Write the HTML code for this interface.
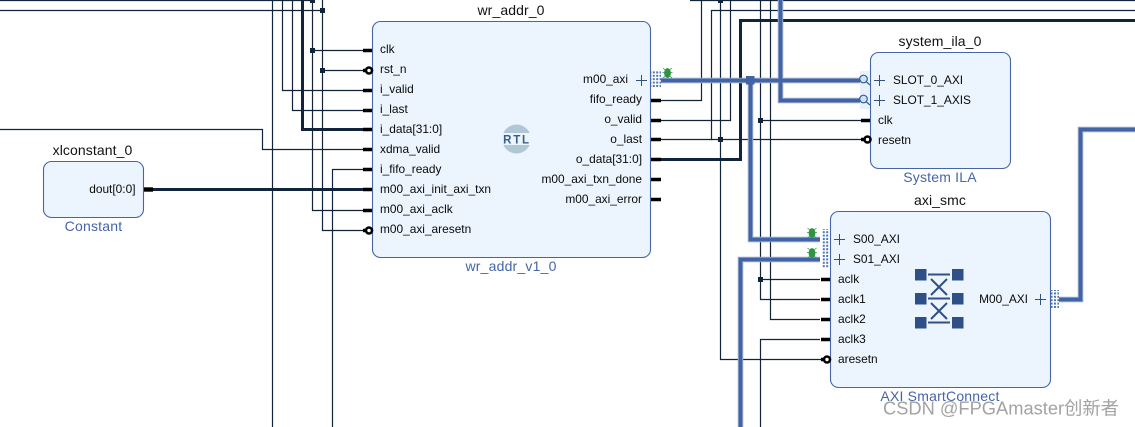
<!DOCTYPE html>
<html><head><meta charset="utf-8"><style>
html,body{margin:0;padding:0;background:#fff;width:1135px;height:427px;overflow:hidden}
svg{display:block}
text{font-family:"Liberation Sans","Noto Sans CJK SC",sans-serif;fill:#111}
.p{font-size:11.9px;fill:#0a0a0a}
.t{font-size:14px;text-anchor:middle;letter-spacing:.1px}
.s{font-size:14px;text-anchor:middle;fill:#4565a8;letter-spacing:.2px}
.e{text-anchor:end}
</style></head><body>
<svg width="1135" height="427" viewBox="0 0 1135 427" xmlns="http://www.w3.org/2000/svg">
<defs>
<pattern id="dots" width="3.4" height="3.4" patternUnits="userSpaceOnUse"><rect width="2" height="2" fill="#4a74b2"/></pattern>
</defs>
<!-- thin wires -->
<g fill="none" stroke="#12243c" stroke-width="1.2">
<path d="M0 .5H312.5M0 10.5H322.5"/>
<path d="M272.5 0V427"/>
<path d="M282.5 0V90.5H365"/>
<path d="M292.5 0V110.5H365"/>
<path d="M312.5 0V210.5H365M312.5 50.5H365"/>
<path d="M322.5 0V230.5H365M322.5 70.5H365"/>
<path d="M0 129.5H262.5V149.5H365"/>
<path d="M365 169.5H332.5V427"/>
<path d="M661 100.5H701.5V0"/>
<path d="M661 120.5H730.5V0"/>
<path d="M661 139.5H711.5V10.5H1135"/>
<path d="M711 139.5H866"/>
<path d="M690 .5H1135"/>
<path d="M720.5 0V359.5H825"/>
<path d="M760.5 0V299.5H820M760.5 120.5H865M760.5 279.5H820"/>
<path d="M770.5 0V319.5H820"/>
<path d="M820 339.500H760.5V427"/>
</g>
<!-- thick wires -->
<g fill="none" stroke="#12243c" stroke-width="3">
<path d="M302.5 0V129.5H365"/>
<path d="M153 189.5H365"/>
<path d="M661 159.5H740.5V20.5H1135"/>
</g>
<!-- blocks -->
<g fill="#ecf4fe" stroke="#4565a8" stroke-width="1.100">
<rect x="372.5" y="21.5" width="278" height="236" rx="8"/>
<rect x="43.5" y="161.5" width="100" height="56" rx="8"/>
<rect x="870.5" y="52.5" width="140" height="116" rx="8"/>
<rect x="830.5" y="211.5" width="220" height="176" rx="8"/>
</g>
<!-- bus wires -->
<g fill="none" stroke="#92a6cc" stroke-width="5.5">
<path d="M661 80.5H862"/><path d="M780.5 0V100.5H862"/>
<path d="M750.5 80.5V239.5H820"/><path d="M820 259.5H740.5V427"/>
<path d="M1059 299.5H1080.5V129.5H1135"/>
</g>
<g fill="none" stroke="#4263a5" stroke-width="3.5">
<path d="M661 80.5H862"/><path d="M780.5 0V100.5H862"/>
<path d="M750.5 80.5V239.5H820"/><path d="M820 259.5H740.5V427"/>
<path d="M1059 299.5H1080.5V129.5H1135"/>
</g>
<rect x="746" y="76" width="8.500" height="8.500" fill="#4263a5"/>
<!-- junction dots -->
<g fill="#12243c">
<rect x="310" y="-2" width="5" height="5"/><rect x="320" y="8" width="5" height="5"/>
<rect x="310" y="48" width="5" height="5"/><rect x="320" y="68" width="5" height="5"/>
<rect x="718" y="-2" width="5" height="5"/><rect x="718" y="137" width="5" height="5"/>
<rect x="758" y="118" width="5" height="5"/><rect x="758" y="277" width="5" height="5"/>
</g>
<!-- stubs -->
<g fill="none" stroke="#000" stroke-width="3.600">
<path d="M363 50.500h9M363 70.500h6M363 90.500h9M363 110.500h9M363 129.500h9M363 149.500h9M363 169.500h9M363 189.500h9M363 210.500h9M363 230.500h6"/>
<path d="M651 100.500h10M651 120.500h10M651 139.500h10M651 159.500h10M651 179.500h10M651 199.500h10"/>
<path d="M144 189.500h9" stroke-width="4.400"/>
<path d="M861 120.500h9M861 139.500h6"/>
<path d="M821 279.500h9M821 299.500h9M821 319.500h9M821 339.500h9M821 359.500h6"/>
</g>
<!-- inverted bubbles -->
<g fill="#fff" stroke="#000" stroke-width="2.600">
<circle cx="369" cy="70.500" r="3"/><circle cx="369" cy="230.500" r="3"/>
<circle cx="867.500" cy="139.500" r="3"/><circle cx="827" cy="359.500" r="3"/>
</g>
<!-- bus dotted ports -->
<rect x="651" y="71" width="10" height="17" fill="url(#dots)"/>
<rect x="822" y="229" width="7" height="39" fill="url(#dots)"/>
<rect x="1051" y="290" width="8" height="18" fill="url(#dots)"/>
<!-- plus -->
<g stroke="#2f5080" stroke-width="1" fill="none">
<path d="M636 80.500H647M641.500 75V86"/>
<path d="M874 80.500H885M879.500 75V86"/>
<path d="M874 100.500H885M879.500 95V106"/>
<path d="M834 239.500H845M839.500 234V245"/>
<path d="M834 259.500H845M839.500 254V265"/>
<path d="M1035 299.500H1046M1040.500 294V305"/>
</g>
<!-- ILA probes -->
<rect x="860" y="71" width="10" height="38" fill="#e8f1fb"/>
<g fill="#cfe3f5" stroke="#2f5f95" stroke-width="1.200">
<circle cx="863.500" cy="79" r="3.800"/><path d="M866.500 82L870 85"/>
<circle cx="863.500" cy="99" r="3.800"/><path d="M866.500 102L870 105"/>
</g>
<!-- bugs -->
<g fill="#2e9440" stroke="#2e9440" stroke-width=".8">
<ellipse cx="667.500" cy="73" rx="3" ry="4.500"/><path d="M663 68l2.500 2M672 68l-2.500 2M662.500 72.500h10M663 78l2.500-2M672 78l-2.500-2"/>
<ellipse cx="812" cy="233" rx="3" ry="4.500"/><path d="M807.500 228l2.500 2M816.500 228l-2.500 2M807 232.500h10M807.500 238l2.500-2M816.500 238l-2.500-2"/>
<ellipse cx="812" cy="253" rx="3" ry="4.500"/><path d="M807.500 248l2.500 2M816.500 248l-2.500 2M807 252.500h10M807.500 258l2.500-2M816.500 258l-2.500-2"/>
</g>
<!-- RTL logo -->
<circle cx="516.500" cy="139" r="14.500" fill="#b0c8d6"/>
<rect x="500" y="133" width="33" height="12" fill="#ecf4fe"/>
<text x="517" y="143.500" font-size="11.500" font-weight="700" text-anchor="middle" letter-spacing="1.800" style="fill:#35608f">RTL</text>
<!-- SMC icon -->
<g fill="#2f5087">
<rect x="915" y="269" width="11.500" height="11.500"/><rect x="952" y="269" width="11.500" height="11.500"/>
<rect x="915" y="293" width="11.500" height="11.500"/><rect x="952" y="293" width="11.500" height="11.500"/>
<rect x="915" y="317" width="11.500" height="11.500"/><rect x="952" y="317" width="11.500" height="11.500"/>
</g>
<g stroke="#2f5087" stroke-width="2" fill="none">
<path d="M928 274.500H950M928 298.500H950M928 322.500H950"/>
<path d="M931 279L947 295M947 279L931 295M931 303L947 319M947 303L931 319"/>
</g>
<!-- titles -->
<text class="t" x="511" y="15">wr_addr_0</text>
<text class="t" x="92.500" y="155">xlconstant_0</text>
<text class="t" x="940" y="46">system_ila_0</text>
<text class="t" x="940" y="205">axi_smc</text>
<text class="s" x="511" y="271">wr_addr_v1_0</text>
<text class="s" x="93.500" y="231">Constant</text>
<text class="s" x="940" y="182">System ILA</text>
<text class="s" x="940" y="401">AXI SmartConnect</text>
<!-- ports -->
<text class="p" x="380" y="53">clk</text>
<text class="p" x="380" y="73">rst_n</text>
<text class="p" x="380" y="93">i_valid</text>
<text class="p" x="380" y="113">i_last</text>
<text class="p" x="380" y="133">i_data[31:0]</text>
<text class="p" x="380" y="153">xdma_valid</text>
<text class="p" x="380" y="173">i_fifo_ready</text>
<text class="p" x="380" y="193">m00_axi_init_axi_txn</text>
<text class="p" x="380" y="213">m00_axi_aclk</text>
<text class="p" x="380" y="233">m00_axi_aresetn</text>
<text class="p e" x="628" y="83">m00_axi</text>
<text class="p e" x="642" y="103">fifo_ready</text>
<text class="p e" x="642" y="123">o_valid</text>
<text class="p e" x="642" y="143">o_last</text>
<text class="p e" x="642" y="163">o_data[31:0]</text>
<text class="p e" x="642" y="183">m00_axi_txn_done</text>
<text class="p e" x="642" y="203">m00_axi_error</text>
<text class="p e" x="135.500" y="193">dout[0:0]</text>
<text class="p" x="893" y="84">SLOT_0_AXI</text>
<text class="p" x="893" y="104">SLOT_1_AXIS</text>
<text class="p" x="878" y="124">clk</text>
<text class="p" x="878" y="144">resetn</text>
<text class="p" x="853" y="243">S00_AXI</text>
<text class="p" x="853" y="263">S01_AXI</text>
<text class="p" x="838" y="283">aclk</text>
<text class="p" x="838" y="303">aclk1</text>
<text class="p" x="838" y="323">aclk2</text>
<text class="p" x="838" y="343">aclk3</text>
<text class="p" x="838" y="363">aresetn</text>
<text class="p e" x="1028" y="303">M00_AXI</text>
<!-- watermark -->
<text x="883" y="414.500" font-size="18.300" style="fill:#8c8c8c;opacity:.8">CSDN @FPGAmaster创新者</text>
</svg>
</body></html>
